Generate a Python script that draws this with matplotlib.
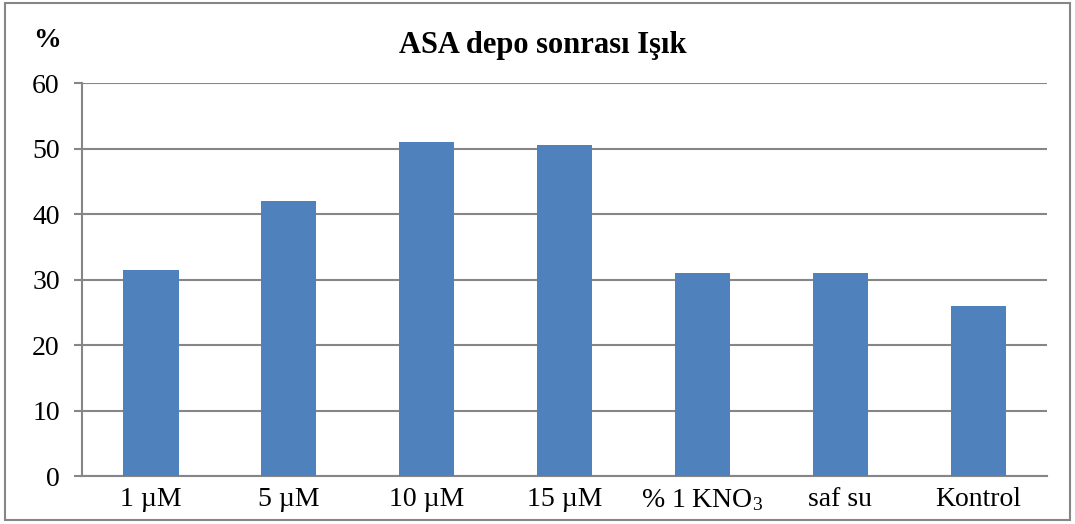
import matplotlib.pyplot as plt
from matplotlib.patches import Rectangle

plt.rcParams['font.family'] = ['Liberation Serif', 'DejaVu Serif']
plt.rcParams['mathtext.fontset'] = 'custom'
plt.rcParams['mathtext.rm'] = 'Liberation Serif'
plt.rcParams['mathtext.default'] = 'rm'

etiketler = ['1 µM', '5 µM', '10 µM', '15 µM', '% 1 KNO$_3$', 'saf su', 'Kontrol']
degerler = [31.5, 42, 51, 50.5, 31, 31, 26]

gri = '#868686'
mavi = '#4F81BD'

fig = plt.figure(figsize=(10.75, 5.24), dpi=100)
ax = fig.add_axes([0.0763, 0.0916, 0.8977, 0.75])

x = range(len(degerler))
ax.bar(x, degerler, width=0.4, color=mavi, zorder=3)
ax.set_xlim(-0.5, len(degerler) - 0.5)
ax.set_ylim(0, 60)
ax.set_yticks(range(0, 61, 10))
ax.set_xticks(list(x))
ax.set_xticklabels(etiketler)

ax.grid(axis='y', color=gri, linewidth=1.5, zorder=0)
for s in ['top', 'right']:
    ax.spines[s].set_visible(False)
for s in ['left', 'bottom']:
    ax.spines[s].set_color(gri)
    ax.spines[s].set_linewidth(1.5)
ax.tick_params(axis='y', length=6, width=1.5, color=gri, labelsize=20, pad=10)
ax.tick_params(axis='x', length=0, labelsize=20, pad=8)

fig.text(0.505, 0.913, 'ASA depo sonrası Işık', ha='center', va='center',
         fontsize=22, fontweight='bold')
fig.text(0.044, 0.922, '%', ha='center', va='center', fontsize=20, fontweight='bold')

# çerçeve
fig.patches.append(Rectangle((0.005, 0.008), 0.99, 0.986, transform=fig.transFigure,
                             fill=False, edgecolor=gri, linewidth=1.5))

fig.savefig('out.png', dpi=100)
